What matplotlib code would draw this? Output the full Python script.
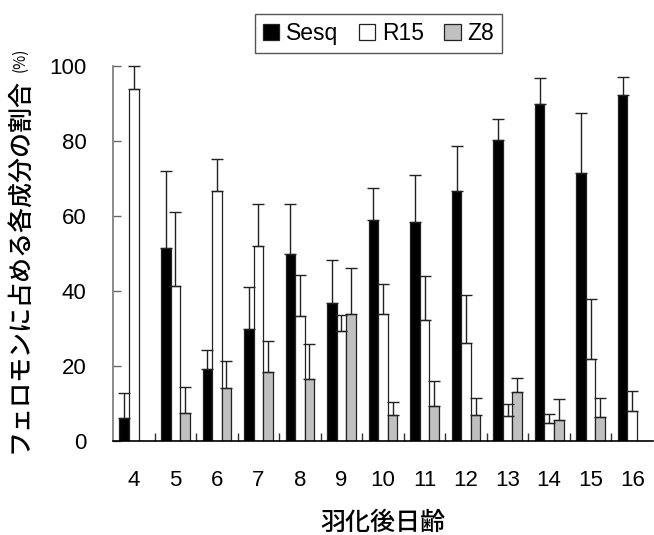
import numpy as np
import matplotlib
matplotlib.use("Agg")
import matplotlib.pyplot as plt
from matplotlib.patches import Patch

plt.rcParams['font.family'] = ['Liberation Sans', 'Noto Sans CJK JP', 'DejaVu Sans']

# data
days = ["4", "5", "6", "7", "8", "9", "10", "11", "12", "13", "14", "15", "16"]
sesq = [6.2, 51.6, 19.3, 29.8, 50.0, 36.9, 59.0, 58.4, 66.7, 80.2, 89.8, 71.5, 92.2]
sesq_err = [6.5, 20.5, 5.0, 11.4, 13.2, 11.4, 8.6, 12.5, 12.0, 5.7, 7.1, 15.9, 5.0]
r15 = [93.9, 41.4, 66.7, 52.1, 33.3, 29.4, 33.9, 32.2, 26.1, 6.8, 4.7, 21.9, 8.0]
r15_err = [6.1, 19.7, 8.4, 11.1, 11.0, 4.2, 8.0, 11.9, 12.9, 3.0, 2.4, 16.0, 5.3]
z8 = [0, 7.4, 14.2, 18.4, 16.6, 33.9, 7.0, 9.4, 7.0, 13.1, 5.6, 6.4, 0]
z8_err = [0, 7.1, 7.2, 8.4, 9.3, 12.2, 3.4, 6.6, 4.6, 3.8, 5.6, 5.2, 0]

series = [("Sesq", sesq, sesq_err, "black"),
          ("R15", r15, r15_err, "white"),
          ("Z8", z8, z8_err, "#c0c0c0")]

fig = plt.figure(figsize=(6.54, 5.35), dpi=100)
ax = fig.add_axes([0.1728, 0.1757, 0.8257, 0.7009])

x = np.arange(len(days))
w = 0.23
for i, (name, vals, errs, col) in enumerate(series):
    pos = x + (i - 1) * w
    vals = np.array(vals, dtype=float)
    errs = np.array(errs, dtype=float)
    ax.bar(pos, vals, w, color=col, edgecolor="#222222", linewidth=0.9, zorder=2)
    m = errs > 0
    ax.errorbar(pos[m], vals[m], yerr=[np.zeros(m.sum()), errs[m]], fmt="none",
                ecolor="#222222", elinewidth=1, capsize=4, capthick=1,
                clip_on=False, zorder=3)

ax.set_xlim(-0.5, len(days) - 0.5)
ax.set_ylim(0, 100)
ax.set_xticks(x)
ax.set_xticklabels(days)
ax.set_xticks(np.arange(0.5, len(days) - 1, 1), minor=True)
ax.set_yticks([0, 20, 40, 60, 80, 100])

ax.tick_params(axis="x", which="major", length=0, pad=21, labelsize=16)
ax.tick_params(axis="x", which="minor", direction="in", length=6, width=1, color="#333333")
ax.tick_params(axis="y", direction="in", length=6, width=1, color="#666666", pad=19, labelsize=16)

ax.spines["top"].set_visible(False)
ax.spines["right"].set_visible(False)
ax.spines["left"].set_color("#777777")
ax.spines["left"].set_linewidth(1.2)
ax.spines["bottom"].set_color("black")
ax.spines["bottom"].set_linewidth(1.2)

# axis titles
fig.text(0.586, 0.022, "羽化後日齢", ha="center", va="center",
         fontsize=18, weight="medium", family=['Noto Sans CJK JP'])
fig.text(0.031, 0.503, "フェロモンに占める各成分の割合", rotation=90, ha="center", va="center",
         fontsize=18, weight="medium", family=['Noto Sans CJK JP'])
fig.text(0.031, 0.888, "(%)", rotation=90, ha="center", va="center",
         fontsize=11, family=['Noto Sans CJK JP'])

handles = [Patch(facecolor=c, edgecolor="#222222", linewidth=0.9) for _, _, _, c in series]
labels = [s[0] for s in series]
leg = fig.legend(handles, labels, loc="center", bbox_to_anchor=(0.579, 0.937), ncol=3,
                 fontsize=16.5, handlelength=0.7, handleheight=0.7, handletextpad=0.3,
                 columnspacing=0.9, borderpad=0.35, fancybox=False, framealpha=1)
leg.get_frame().set_edgecolor("#555555")
leg.get_frame().set_linewidth(1)

fig.savefig("out.png", dpi=100)
